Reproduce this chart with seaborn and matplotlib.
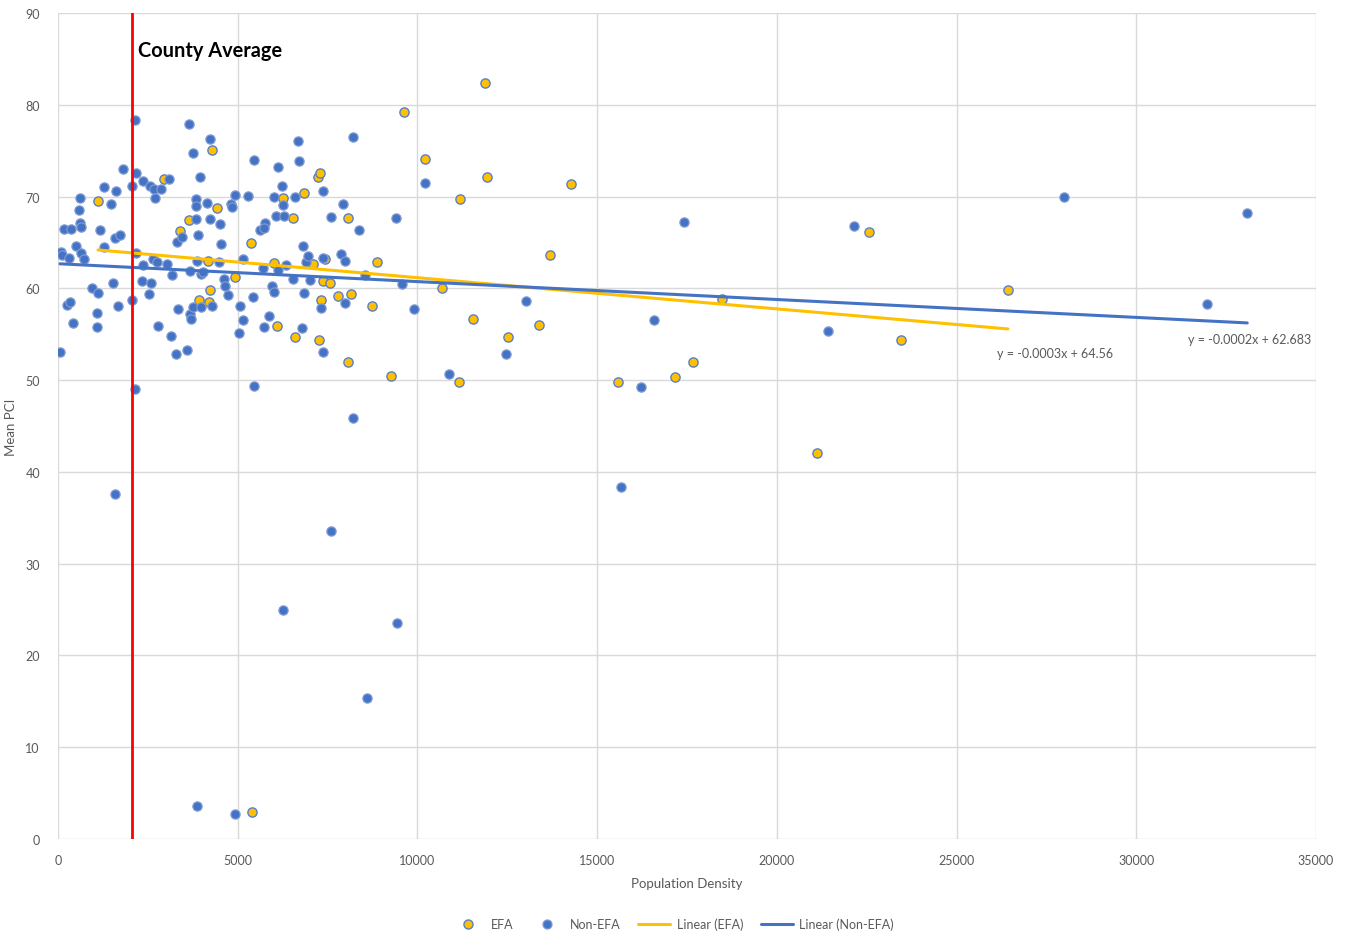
import matplotlib
matplotlib.use("Agg")
import matplotlib.pyplot as plt
from matplotlib.lines import Line2D
import numpy as np
import pandas as pd
import seaborn as sns

# EFA areas: population density vs mean PCI
efa_density = [1113, 2949, 3403, 3635, 3923, 4173, 4220, 4210, 4294, 4433,
               4915, 5379, 6009, 6084, 6251, 6530, 6604, 6835, 7103, 7233,
               7298, 7270, 7308, 7364, 7428, 7567, 7798, 8068, 8068, 8142,
               8745, 8875, 9274, 9617, 10219, 10692, 11176, 11156, 11536, 11879,
               11943, 12511, 13373, 13696, 14262, 15579, 17174, 17666, 18473, 21116,
               22571, 23461, 26429, 5391]
efa_pci = [69.5, 71.9, 66.3, 67.5, 58.7, 63.0, 59.8, 58.5, 75.1, 68.7,
           61.2, 64.9, 62.8, 55.9, 69.8, 67.7, 54.7, 70.4, 62.6, 72.1,
           72.6, 54.4, 58.7, 60.8, 63.2, 60.6, 59.2, 67.7, 52.0, 59.4,
           58.1, 62.9, 50.4, 79.2, 74.1, 60.0, 69.7, 49.8, 56.7, 82.4,
           72.1, 54.7, 56.0, 63.6, 71.4, 49.8, 50.3, 52.0, 58.8, 42.1,
           66.1, 54.4, 59.8, 2.9]

# Non-EFA areas
non_density = [56, 75, 111, 297, 167, 362, 250, 343, 426, 492,
               584, 621, 612, 640, 649, 732, 946, 1104, 1085, 1085,
               1177, 1288, 1288, 1466, 1521, 1586, 1614, 1660, 1725, 1800,
               2050, 2059, 2170, 2161, 2142, 2142, 2374, 2356, 2346, 2532,
               2597, 2569, 2680, 2699, 2634, 2745, 2791, 2866, 3079, 3023,
               3153, 3162, 3283, 3329, 3311, 3440, 3588, 3681, 3672, 3690,
               3746, 3653, 3764, 3830, 3839, 3830, 3886, 3858, 3970, 3960,
               3979, 4025, 4155, 4220, 4229, 4276, 4470, 4507, 4544, 4609,
               4655, 4739, 4804, 4850, 4924, 5054, 5045, 5138, 5147, 5286,
               5416, 5453, 5453, 5611, 5713, 5741, 5759, 5741, 5880, 5964,
               6009, 6019, 6130, 6075, 6130, 6223, 6251, 6279, 6335, 6548,
               6604, 6677, 6705, 6788, 6826, 6844, 6891, 6964, 7011, 7308,
               7364, 7382, 7373, 7595, 7920, 7873, 7993, 7993, 8216, 8374,
               8541, 9413, 9580, 9896, 10219, 10877, 12473, 13028, 16211, 16572,
               17407, 15663, 21430, 22136, 27996, 31965, 33087, 8198, 1578, 7603,
               6273, 9440, 8596, 3876, 4919]
non_pci = [53.1, 64.0, 63.6, 63.3, 66.5, 66.5, 58.2, 58.5, 56.2, 64.6,
           68.5, 69.8, 67.1, 66.7, 63.9, 63.2, 60.0, 59.5, 57.3, 55.8,
           66.4, 64.5, 71.0, 69.2, 60.6, 65.5, 70.6, 58.1, 65.8, 73.0,
           71.1, 58.7, 72.6, 63.9, 49.0, 78.3, 71.7, 62.5, 60.8, 59.4,
           60.6, 71.1, 70.8, 69.8, 63.2, 62.9, 55.9, 70.8, 71.9, 62.7,
           54.8, 61.4, 52.8, 57.8, 65.0, 65.6, 53.3, 61.9, 57.2, 56.7,
           58.0, 77.9, 74.8, 69.7, 69.0, 67.6, 65.8, 63.0, 58.0, 72.1,
           61.6, 61.8, 69.3, 67.6, 76.3, 58.1, 62.9, 67.0, 64.8, 61.0,
           60.3, 59.3, 69.2, 68.9, 70.2, 58.1, 55.1, 56.6, 63.2, 70.1,
           59.1, 49.4, 74.0, 66.4, 62.2, 55.8, 67.1, 66.6, 57.0, 60.3,
           59.6, 70.0, 73.2, 67.9, 62.0, 71.2, 69.1, 67.9, 62.5, 61.0,
           70.0, 76.0, 73.9, 55.7, 64.6, 59.5, 62.9, 63.5, 60.9, 57.9,
           53.1, 70.6, 63.3, 67.8, 69.2, 63.7, 63.0, 58.4, 76.5, 66.4,
           61.5, 67.7, 60.5, 57.7, 71.5, 50.7, 52.8, 58.6, 49.2, 56.6,
           67.2, 38.4, 55.4, 66.8, 69.9, 58.3, 68.2, 45.9, 37.6, 33.6,
           25.0, 23.5, 15.4, 3.6, 2.7]

# Linear trendlines (slope, intercept)
efa_fit = (-0.00034, 64.56)
non_fit = (-0.000195, 62.683)

county_average = 2060

YELLOW = "#FFC000"
BLUE = "#4472C4"
GREY = "#595959"

sns.set_theme(style="white")
plt.rcParams["font.family"] = ["Lato", "DejaVu Sans"]

efa = pd.DataFrame({"density": efa_density, "pci": efa_pci})
non = pd.DataFrame({"density": non_density, "pci": non_pci})

fig = plt.figure(figsize=(13.46, 9.37), dpi=100)
ax = fig.add_axes([58 / 1346, 1 - 840 / 937, (1316 - 58) / 1346, (840 - 14) / 937])

sns.scatterplot(data=efa, x="density", y="pci", ax=ax, color=YELLOW,
                edgecolor="#5B7FC7", linewidth=1.0, s=44, zorder=3)
sns.scatterplot(data=non, x="density", y="pci", ax=ax, color=BLUE,
                edgecolor="#7E9BD3", linewidth=0.9, s=44, zorder=4)


def trend(df, fit):
    xs = np.array([df["density"].min(), df["density"].max()])
    return pd.DataFrame({"density": xs, "pci": fit[0] * xs + fit[1]})


sns.lineplot(data=trend(efa, efa_fit), x="density", y="pci", ax=ax,
             color=YELLOW, linewidth=2.2, zorder=5)
sns.lineplot(data=trend(non, non_fit), x="density", y="pci", ax=ax,
             color=BLUE, linewidth=2.2, zorder=6)

ax.axvline(county_average, color="#FF0000", linewidth=2.0, zorder=7)
ax.text(county_average + 170, 86.0, "County Average", fontsize=14.4,
        fontweight="bold", color="black", va="center", ha="left")


def eq_label(fit):
    return f"y = {fit[0]:.4f}x + {fit[1]:g}"


ax.text(26120, 52.95, eq_label(efa_fit), fontsize=9, color=GREY,
        va="center", ha="left")
ax.text(31430, 54.5, eq_label(non_fit), fontsize=9, color=GREY,
        va="center", ha="left")

ax.set_xlim(0, 35000)
ax.set_ylim(0, 90)
ax.set_xticks(np.arange(0, 35001, 5000))
ax.set_yticks(np.arange(0, 91, 10))
ax.grid(True, color="#D9D9D9", linewidth=1.0)
ax.set_axisbelow(True)
for sp in ax.spines.values():
    sp.set_visible(False)
ax.tick_params(axis="both", length=0, labelsize=9, labelcolor=GREY)
ax.tick_params(axis="y", pad=13)
ax.tick_params(axis="x", pad=11)
ax.set_xlabel("Population Density", fontsize=9.5, color=GREY, labelpad=7.5)
ax.set_ylabel("Mean PCI", fontsize=9.5, color=GREY, labelpad=6)

handles = [
    Line2D([], [], marker="o", linestyle="none", markersize=6.5,
           markerfacecolor=YELLOW, markeredgecolor="#5B7FC7", markeredgewidth=1.0),
    Line2D([], [], marker="o", linestyle="none", markersize=6.5,
           markerfacecolor=BLUE, markeredgecolor="#7E9BD3", markeredgewidth=0.9),
    Line2D([], [], color=YELLOW, linewidth=2.2),
    Line2D([], [], color=BLUE, linewidth=2.2),
]
labels = ["EFA", "Non-EFA", "Linear (EFA)", "Linear (Non-EFA)"]
fig.legend(handles, labels, loc="center", bbox_to_anchor=(0.5, 0.013),
           ncol=4, frameon=False, fontsize=9, labelcolor=GREY,
           handlelength=2.6, columnspacing=1.4, handletextpad=0.5)

fig.savefig("out.png", dpi=100, facecolor="white")
